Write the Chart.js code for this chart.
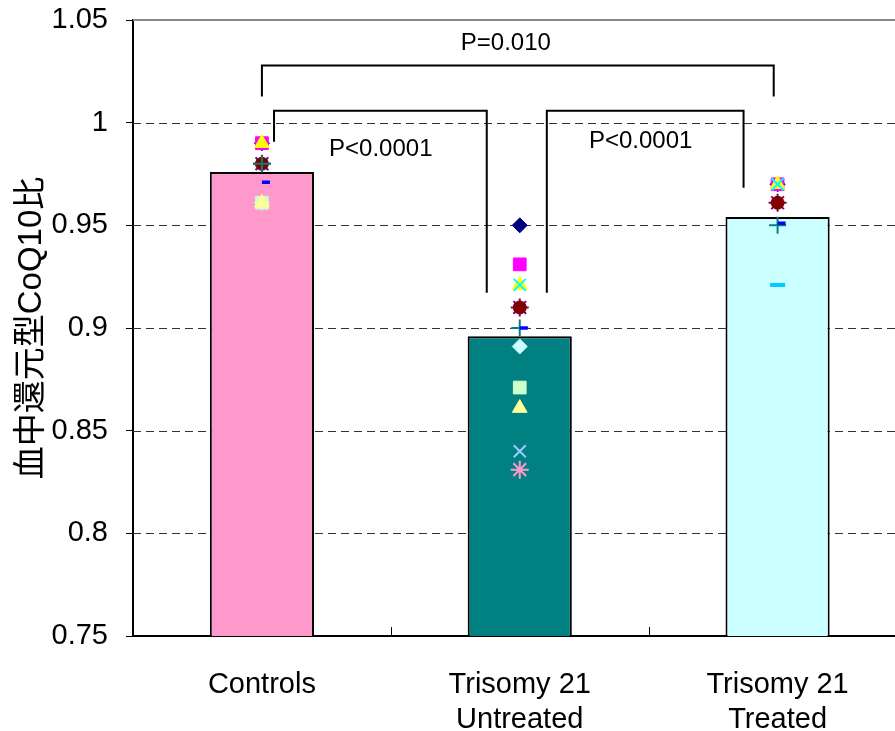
<!DOCTYPE html>
<html>
<head>
<meta charset="utf-8">
<script src="https://cdn.jsdelivr.net/npm/chart.js@4"></script>
<style>
  html, body { margin: 0; padding: 0; background: #fff; overflow: hidden; }
  canvas { display: block; }
</style>
</head>
<body>
<canvas id="chart" width="918" height="731"></canvas>
<script>
// groups and mean ratio (bars)
const categories = ['Controls', ['Trisomy 21', 'Untreated'], ['Trisomy 21', 'Treated']];
const meanRatio = [0.976, 0.896, 0.954];

// individual values, one array per marker series (null = no point in that group)
const navyDiamond    = [0.99, 0.95, 0.97];
const magentaSquare  = [0.99, 0.931, 0.97];
const yellowTriangle = [0.99, 0.921, 0.97];
const cyanCross      = [0.98, 0.921, 0.97];
const purpleStar     = [0.98, 0.91, 0.961];
const maroonCircle   = [0.98, 0.91, 0.961];
const tealPlus       = [0.98, 0.90, 0.95];
const blueDash       = [0.971, 0.90, 0.951];
const skyLine        = [null, null, 0.921];
const paleDiamond    = [0.961, 0.891, null];
const mintSquare     = [0.961, 0.871, null];
const creamTriangle  = [0.961, 0.861, null];
const paleBlueCross  = [null, 0.84, null];
const roseStar       = [null, 0.831, null];

const yTicks = [0.75, 0.8, 0.85, 0.9, 0.95, 1, 1.05];

// significance brackets: [from group, to group, bar height, left leg end, right leg end]
const brackets = [
  { from: 0, to: 1.985, y: 1.0278, leftEnd: 1.0127, rightEnd: 1.0127, label: 'P=0.010', lx: 0.946, ly: 1.0385 },
  { from: 0.047, to: 0.872, y: 1.0058, leftEnd: 0.9907, rightEnd: 0.9172, label: 'P<0.0001', lx: 0.461, ly: 0.9868 },
  { from: 1.105, to: 1.868, y: 1.0058, leftEnd: 0.9172, rightEnd: 0.9683, label: 'P<0.0001', lx: 1.469, ly: 0.9907 }
];

const FONT = "'Liberation Sans', Arial, 'Noto Sans CJK JP', sans-serif";

function markerSet(data, color, style, radius, border, i) {
  return {
    type: 'line', data, showLine: false, order: 50 - i,
    pointStyle: style, pointRadius: radius, pointHoverRadius: radius,
    pointBackgroundColor: color, pointBorderColor: color, pointBorderWidth: border
  };
}

const frame = {
  id: 'frame',
  beforeDatasetsDraw(chart) {
    const { ctx, chartArea: a, scales: { x, y } } = chart;
    ctx.save();
    // dashed gridlines
    ctx.strokeStyle = '#333';
    ctx.lineWidth = 1;
    ctx.setLineDash([8, 5]);
    yTicks.forEach(v => {
      if (v === yTicks[0] || v === yTicks[yTicks.length - 1]) return;
      const py = Math.round(y.getPixelForValue(v)) + 0.5;
      ctx.beginPath(); ctx.moveTo(a.left, py); ctx.lineTo(a.right, py); ctx.stroke();
    });
    ctx.setLineDash([]);
    // grey top line
    ctx.strokeStyle = '#888';
    ctx.lineWidth = 2;
    ctx.beginPath(); ctx.moveTo(a.left, a.top); ctx.lineTo(a.right, a.top); ctx.stroke();
    // upward ticks between groups
    ctx.strokeStyle = '#000';
    ctx.lineWidth = 1;
    for (let i = 1; i < categories.length; i++) {
      const px = Math.round((x.getPixelForValue(i - 1) + x.getPixelForValue(i)) / 2) + 0.5;
      ctx.beginPath(); ctx.moveTo(px, a.bottom); ctx.lineTo(px, a.bottom - 9); ctx.stroke();
    }
    ctx.restore();
  },
  afterDatasetsDraw(chart) {
    const { ctx, scales: { x, y } } = chart;
    ctx.save();
    ctx.strokeStyle = '#000';
    ctx.lineWidth = 2;
    ctx.fillStyle = '#000';
    ctx.font = '24px ' + FONT;
    ctx.textAlign = 'center';
    ctx.textBaseline = 'middle';
    brackets.forEach(b => {
      const x0 = x.getPixelForValue(b.from), x1 = x.getPixelForValue(b.to);
      const py = y.getPixelForValue(b.y);
      ctx.beginPath();
      ctx.moveTo(x0, y.getPixelForValue(b.leftEnd));
      ctx.lineTo(x0, py);
      ctx.lineTo(x1, py);
      ctx.lineTo(x1, y.getPixelForValue(b.rightEnd));
      ctx.stroke();
      ctx.fillText(b.label, x.getPixelForValue(b.lx), y.getPixelForValue(b.ly));
    });
    ctx.restore();
  }
};

new Chart(document.getElementById('chart'), {
  data: {
    labels: categories,
    datasets: [
      {
        type: 'bar', data: meanRatio, order: 100,
        backgroundColor: ['#FF99CC', '#008080', '#CCFFFF'],
        borderColor: '#000', borderWidth: 2, borderSkipped: false,
        barPercentage: 0.404, categoryPercentage: 1
      },
      markerSet(navyDiamond, '#000080', 'rectRot', 7.5, 1, 1),
      markerSet(magentaSquare, '#FF00FF', 'rect', 9, 1, 2),
      markerSet(yellowTriangle, '#FFFF00', 'triangle', 8.5, 1, 3),
      markerSet(cyanCross, '#00FFFF', 'crossRot', 8.5, 2, 4),
      markerSet(purpleStar, '#800080', 'star', 9, 2, 5),
      markerSet(maroonCircle, '#800000', 'circle', 6.5, 1, 6),
      markerSet(tealPlus, '#008080', 'cross', 8.5, 2, 7),
      markerSet(blueDash, '#0000FF', 'dash', 8, 3.5, 8),
      markerSet(skyLine, '#00CCFF', 'line', 7.5, 4, 9),
      markerSet(paleDiamond, '#CCFFFF', 'rectRot', 7.5, 1, 10),
      markerSet(mintSquare, '#CCFFCC', 'rect', 9, 1, 11),
      markerSet(creamTriangle, '#FFFF99', 'triangle', 8.5, 1, 12),
      markerSet(paleBlueCross, '#99CCFF', 'crossRot', 8.5, 2, 13),
      markerSet(roseStar, '#FF99CC', 'star', 9, 2, 14)
    ]
  },
  options: {
    responsive: false,
    animation: false,
    devicePixelRatio: 1,
    layout: { padding: { top: 0, right: 4, left: 0, bottom: 0 } },
    plugins: { legend: { display: false }, tooltip: { enabled: false } },
    scales: {
      x: {
        type: 'category', offset: true,
        grid: { display: false },
        border: { display: true, color: '#000', width: 2 },
        ticks: { color: '#000', font: { family: FONT, size: 29, lineHeight: 1.22 }, padding: 23, maxRotation: 0 },
        afterFit(scale) { scale.height = 95; }
      },
      y: {
        min: 0.75, max: 1.05,
        afterBuildTicks(scale) { scale.ticks = yTicks.map(v => ({ value: v })); },
        grid: { drawOnChartArea: false, drawTicks: true, tickLength: 7, tickColor: '#000', tickWidth: 1 },
        border: { display: true, color: '#000', width: 2 },
        ticks: { color: '#000', font: { family: FONT, size: 29 }, padding: 18, callback: v => String(+(+v).toFixed(2)) },
        title: { display: true, text: '血中還元型CoQ10比', color: '#000', font: { family: FONT, size: 33 }, padding: { top: 12, bottom: 0 } },
        afterFit(scale) { scale.width = 133; scale.paddingTop = 20; scale.paddingBottom = 0; }
      }
    }
  },
  plugins: [frame]
});
</script>
</body>
</html>
